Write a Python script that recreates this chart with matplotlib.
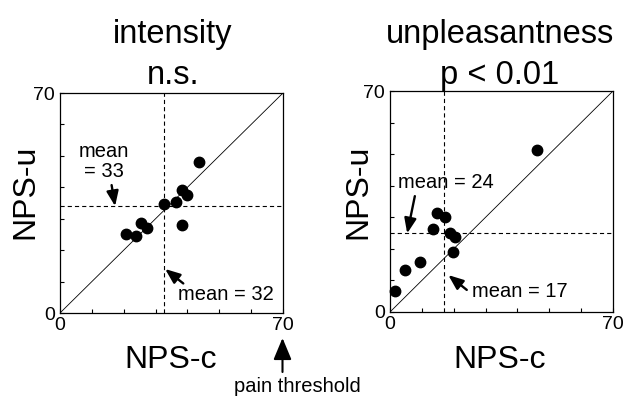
import matplotlib
matplotlib.use("Agg")
import matplotlib.pyplot as plt

plt.rcParams['font.family'] = ['Liberation Sans', 'DejaVu Sans']
plt.rcParams['lines.scale_dashes'] = False

# ---- data ----
int_c = [43.5, 38.3, 40.0, 36.4, 32.5, 38.3, 25.5, 27.3, 20.8, 23.9]
int_u = [48.0, 39.0, 37.4, 35.3, 34.6, 27.9, 28.6, 27.0, 25.2, 24.5]
int_mean_c_line = 32.5
int_mean_u_line = 33.9

unp_c = [46.1, 14.9, 17.3, 13.6, 18.7, 20.4, 19.7, 9.4, 4.7, 1.6]
unp_u = [51.2, 31.3, 30.2, 26.3, 24.9, 23.9, 18.9, 15.7, 13.3, 6.8]
unp_mean_c_line = 17.0
unp_mean_u_line = 24.9

titles = [("intensity", "n.s."), ("unpleasantness", "p < 0.01")]
xlabel = "NPS-c"
ylabel = "NPS-u"
axis_max = 70
minor_ticks = [10, 20, 30, 40, 50, 60]

W, H = 625, 397
fig = plt.figure(figsize=(W / 100, H / 100), dpi=100)

def fx(px):
    return px / W

def fy(py):
    return 1 - py / H

axL = fig.add_axes([fx(60), fy(313), 223 / W, 220 / H])
axR = fig.add_axes([fx(390), fy(312), 223 / W, 221 / H])

def style(ax):
    ax.set_xlim(0, axis_max)
    ax.set_ylim(0, axis_max)
    ax.set_xticks([0, axis_max])
    ax.set_yticks([0, axis_max])
    ax.set_xticks(minor_ticks, minor=True)
    ax.set_yticks(minor_ticks, minor=True)
    ax.tick_params(which='both', direction='in', length=3, width=0.8,
                   labelsize=14, top=False, right=False)
    ax.tick_params(axis='x', pad=3)
    ax.tick_params(axis='y', pad=3.5)
    for s in ax.spines.values():
        s.set_linewidth(0.9)
        s.set_color('black')
    ax.plot([0, axis_max], [0, axis_max], color='black', lw=0.6)

for ax, xs, ys, mc, mu in [(axL, int_c, int_u, int_mean_c_line, int_mean_u_line),
                           (axR, unp_c, unp_u, unp_mean_c_line, unp_mean_u_line)]:
    style(ax)
    ax.axvline(mc, color='black', lw=0.8, linestyle=(0, (3, 2.2)))
    ax.axhline(mu, color='black', lw=0.8, linestyle=(0, (3, 2.2)))
    ax.plot(xs, ys, 'o', color='black', ms=7.5, mec='black', clip_on=False, zorder=5)

# titles
for cx, (t1, t2) in zip([173, 500], titles):
    fig.text(fx(cx), fy(43), t1, fontsize=23.5, ha='center', va='baseline')
    fig.text(fx(cx), fy(84), t2, fontsize=23.5, ha='center', va='baseline')

# axis labels
for cx in [171, 500]:
    fig.text(fx(cx), fy(368), xlabel, fontsize=23, ha='center', va='baseline')
for cx in [25, 358]:
    fig.text(fx(cx), fy(192), ylabel, fontsize=23, ha='center', va='center', rotation=90)

arrow = dict(arrowstyle='-|>,head_length=0.5,head_width=0.2', color='black', lw=1.7,
             mutation_scale=18, shrinkA=0, shrinkB=0)

# left annotations
axL.text(13.8, 49.6, "mean", fontsize=14.5, ha='center', va='baseline')
axL.text(13.8, 43.3, "= 33", fontsize=14.5, ha='center', va='baseline')
axL.annotate('', xy=(17.3, 34.0), xytext=(16.2, 40.7), arrowprops=arrow)
axL.text(37.0, 4.1, "mean = 32", fontsize=14.5, ha='left', va='baseline')
axL.annotate('', xy=(33.0, 14.0), xytext=(38.7, 9.4), arrowprops=arrow)

# right annotations
axR.text(2.5, 39.3, "mean = 24", fontsize=14.5, ha='left', va='baseline')
axR.annotate('', xy=(5.4, 24.9), xytext=(7.8, 36.7), arrowprops=arrow)
axR.text(25.6, 4.85, "mean = 17", fontsize=14.5, ha='left', va='baseline')
axR.annotate('', xy=(18.3, 11.7), xytext=(24.1, 7.0), arrowprops=arrow)

# pain threshold
fig.text(fx(297), fy(392), "pain threshold", fontsize=14.5, ha='center', va='baseline')
fig.add_artist(matplotlib.patches.FancyArrowPatch(
    (fx(282.5), fy(372)), (fx(282.5), fy(338)), transform=fig.transFigure,
    arrowstyle='-|>,head_length=0.6,head_width=0.25', color='black', lw=1.5,
    mutation_scale=22, shrinkA=0, shrinkB=0))

fig.savefig("out.png", dpi=100)
